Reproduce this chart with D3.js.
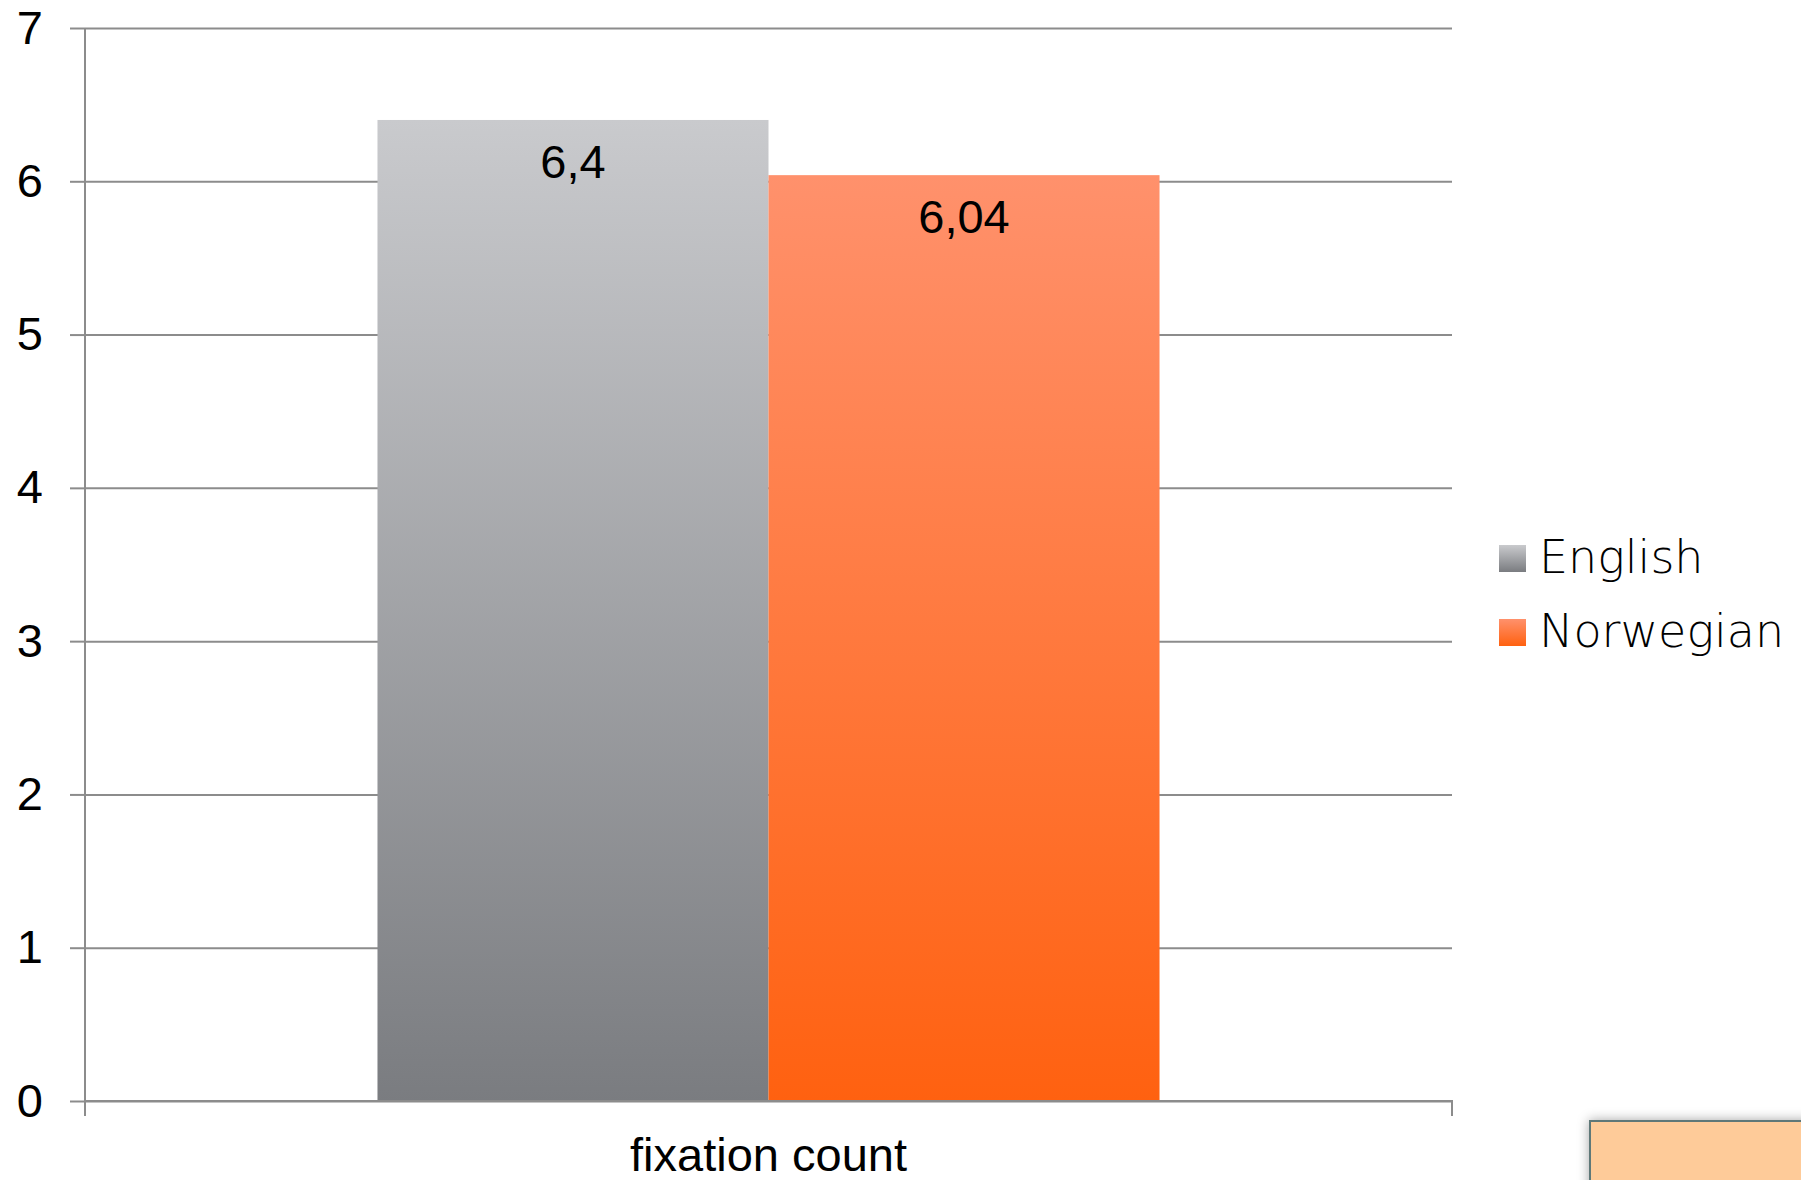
<!DOCTYPE html>
<html>
<head>
<meta charset="utf-8">
<script src="https://cdn.jsdelivr.net/npm/d3@7"></script>
<style>
  html, body { margin: 0; padding: 0; background: #fff; }
  svg { display: block; }
</style>
</head>
<body>
<svg id="chart" width="1801" height="1180"></svg>
<script>
const categories = ["fixation count"];
const seriesNames = ["English", "Norwegian"];
const englishValues = [6.4];
const norwegianValues = [6.04];
const valueLabels = [["6,4"], ["6,04"]];
const yTicks = [0, 1, 2, 3, 4, 5, 6, 7];

(function () {
const svg = d3.select("#chart");
const pLeft = 85, pRight = 1452, pTop = 28, pBottom = 1101;

const defs = svg.append("defs");
const grads = [
  {id: "gEng", top: "#c9cacd", bot: "#7a7c80"},
  {id: "gNor", top: "#ff916c", bot: "#ff6110"}
];
grads.forEach(g => {
  const lg = defs.append("linearGradient").attr("id", g.id)
    .attr("x1", 0).attr("y1", 0).attr("x2", 0).attr("y2", 1);
  lg.append("stop").attr("offset", "0%").attr("stop-color", g.top);
  lg.append("stop").attr("offset", "100%").attr("stop-color", g.bot);
});
const f = defs.append("filter").attr("id", "shadow")
  .attr("x", "-20%").attr("y", "-50%").attr("width", "140%").attr("height", "200%");
f.append("feDropShadow").attr("dx", 0).attr("dy", 0).attr("stdDeviation", 6)
  .attr("flood-color", "#000").attr("flood-opacity", 0.35);

const y = d3.scaleLinear().domain([0, 7]).range([pBottom, pTop]);
const x0 = d3.scaleBand().domain(categories).range([pLeft, pRight])
  .paddingInner(0).paddingOuter(0.374);
const x1 = d3.scaleBand().domain(seriesNames).range([0, x0.bandwidth()]).padding(0);

const gridColor = "#8c8c8c";

// gridlines
const grid = svg.append("g").attr("transform", `translate(${pLeft},0)`)
  .call(d3.axisLeft(y).tickValues(yTicks).tickSize(-(pRight - pLeft)).tickFormat(""));
grid.select(".domain").remove();
grid.selectAll("line").attr("stroke", gridColor).attr("stroke-width", 2);

// y axis ticks & labels
const yAxis = svg.append("g").attr("transform", `translate(${pLeft},0)`)
  .call(d3.axisLeft(y).tickValues(yTicks).tickSize(15).tickPadding(27).tickFormat(d3.format("d")));
yAxis.select(".domain").attr("stroke", gridColor).attr("stroke-width", 2)
  .attr("d", `M0,${pTop}V${pBottom}`);
yAxis.selectAll("line").attr("stroke", gridColor).attr("stroke-width", 2);
yAxis.selectAll("text").attr("font-family", "'Liberation Sans', Arial, sans-serif")
  .attr("font-size", 47).attr("fill", "#000");

// bars
const data = categories.map((c, i) => ({
  cat: c,
  vals: [
    {s: "English", v: englishValues[i], label: valueLabels[0][i], fill: "url(#gEng)"},
    {s: "Norwegian", v: norwegianValues[i], label: valueLabels[1][i], fill: "url(#gNor)"}
  ]
}));
const groups = svg.append("g").selectAll("g").data(data).join("g")
  .attr("transform", d => `translate(${x0(d.cat)},0)`);
groups.selectAll("rect").data(d => d.vals).join("rect")
  .attr("x", d => x1(d.s)).attr("width", x1.bandwidth())
  .attr("y", d => y(d.v)).attr("height", d => y(0) - y(d.v))
  .attr("fill", d => d.fill);
groups.selectAll("text").data(d => d.vals).join("text")
  .attr("x", d => x1(d.s) + x1.bandwidth() / 2)
  .attr("y", d => y(d.v) + 58)
  .attr("text-anchor", "middle")
  .attr("font-family", "'Liberation Sans', Arial, sans-serif")
  .attr("font-size", 47).attr("fill", "#000")
  .text(d => d.label);

// x axis
const xAxis = svg.append("g").attr("transform", `translate(0,${pBottom})`)
  .call(d3.axisBottom(x0).tickSize(0).tickPadding(37));
xAxis.select(".domain").attr("stroke", gridColor).attr("stroke-width", 2)
  .attr("d", `M${pLeft},15V0H${pRight}V15`);
xAxis.selectAll("text").attr("font-family", "'Liberation Sans', Arial, sans-serif")
  .attr("font-size", 47).attr("fill", "#000").attr("dy", "0.71em");

// legend
const legend = svg.append("g").attr("transform", "translate(1499,545)");
const legendItems = legend.selectAll("g").data(seriesNames).join("g")
  .attr("transform", (d, i) => `translate(0,${i * 74})`);
legendItems.append("rect").attr("width", 27).attr("height", 27)
  .attr("fill", (d, i) => i === 0 ? "url(#gEng)" : "url(#gNor)");
legendItems.append("text").attr("x", 40).attr("y", 28)
  .attr("font-family", "'DejaVu Sans', sans-serif")
  .attr("font-weight", 300)
  .attr("font-size", 46).attr("fill", "#000")
  .text(d => d);

// bottom-right box
svg.append("rect").attr("x", 1590).attr("y", 1121).attr("width", 230).attr("height", 80)
  .attr("fill", "#fecb99").attr("stroke", "#5f7878").attr("stroke-width", 2)
  .attr("filter", "url(#shadow)");
})();
</script>
</body>
</html>
